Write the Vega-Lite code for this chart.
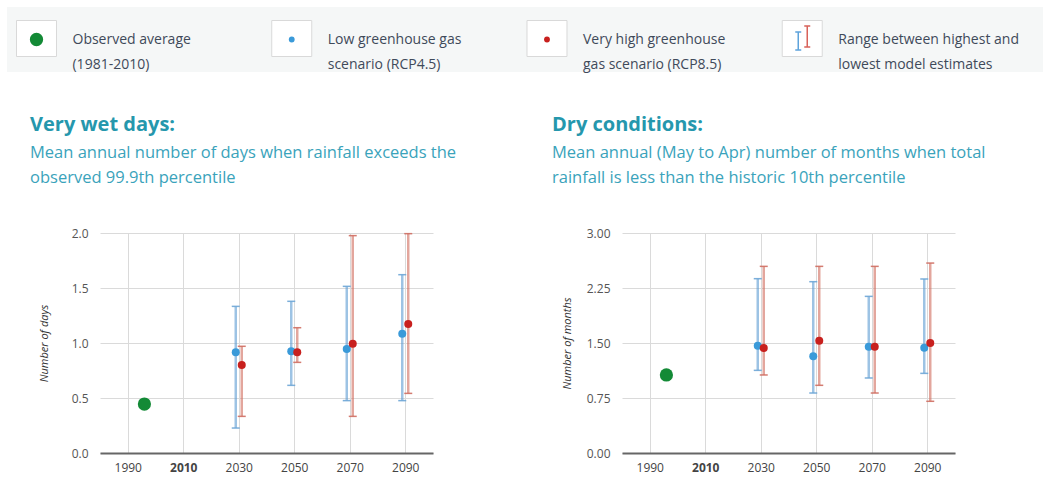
{
  "$schema": "https://vega.github.io/schema/vega-lite/v6.json",
  "background": "white",
  "padding": {"left": 7, "top": 7, "right": 0, "bottom": 6},
  "spacing": 42,
  "config": {
    "view": {"stroke": null},
    "font": "Open Sans",
    "axis": {"labelFont": "Open Sans", "titleFont": "Open Sans", "gridColor": "#dadada", "gridWidth": 1}
  },
  "datasets": {
    "legend": [
      {"item": "Observed", "i": 0, "label": "Observed average\n(1981-2010)"},
      {"item": "Low", "i": 1, "label": "Low greenhouse gas\nscenario (RCP4.5)"},
      {"item": "High", "i": 2, "label": "Very high greenhouse\ngas scenario (RCP8.5)"},
      {"item": "Range", "i": 3, "label": "Range between highest and\nlowest model estimates"}
    ],
    "wet": [
      {"scenario": "Observed", "year": 1996, "value": 0.445},
      {"scenario": "Low", "year": 2030, "value": 0.915, "lo": 0.227, "hi": 1.333},
      {"scenario": "High", "year": 2030, "value": 0.80, "lo": 0.333, "hi": 0.97},
      {"scenario": "Low", "year": 2050, "value": 0.924, "lo": 0.615, "hi": 1.379},
      {"scenario": "High", "year": 2050, "value": 0.915, "lo": 0.824, "hi": 1.139},
      {"scenario": "Low", "year": 2070, "value": 0.945, "lo": 0.476, "hi": 1.515},
      {"scenario": "High", "year": 2070, "value": 0.994, "lo": 0.333, "hi": 1.976},
      {"scenario": "Low", "year": 2090, "value": 1.085, "lo": 0.476, "hi": 1.621},
      {"scenario": "High", "year": 2090, "value": 1.173, "lo": 0.542, "hi": 1.994}
    ],
    "dry": [
      {"scenario": "Observed", "year": 1996, "value": 1.064},
      {"scenario": "Low", "year": 2030, "value": 1.464, "lo": 1.127, "hi": 2.377},
      {"scenario": "High", "year": 2030, "value": 1.432, "lo": 1.064, "hi": 2.545},
      {"scenario": "Low", "year": 2050, "value": 1.318, "lo": 0.818, "hi": 2.336},
      {"scenario": "High", "year": 2050, "value": 1.532, "lo": 0.923, "hi": 2.545},
      {"scenario": "Low", "year": 2070, "value": 1.45, "lo": 1.023, "hi": 2.136},
      {"scenario": "High", "year": 2070, "value": 1.45, "lo": 0.818, "hi": 2.545},
      {"scenario": "Low", "year": 2090, "value": 1.436, "lo": 1.086, "hi": 2.373},
      {"scenario": "High", "year": 2090, "value": 1.5, "lo": 0.705, "hi": 2.59}
    ]
  },
  "vconcat": [
    {
      "width": 943,
      "height": 65,
      "data": {"name": "legend"},
      "encoding": {
        "x": {"field": "i", "type": "quantitative", "scale": {"domain": [0.2488, 3.9432], "nice": false, "zero": false}, "axis": null}
      },
      "layer": [
        {
          "mark": {"type": "rect", "color": "#f5f7f7", "opacity": 1, "clip": false},
          "encoding": {"x": {"datum": -0.1155, "type": "quantitative"}, "x2": {"datum": 3.9432}}
        },
        {
          "mark": {"type": "point", "shape": "M-1,-0.95H1V0.85H-1Z", "size": 1600, "filled": true, "fill": "white", "stroke": "#d9d9d9", "strokeWidth": 1, "opacity": 1, "clip": false}
        },
        {
          "transform": [{"filter": "datum.item === 'Observed'"}],
          "mark": {"type": "circle", "size": 177, "opacity": 1, "clip": false},
          "encoding": {"fill": {"field": "item", "type": "nominal", "scale": {"domain": ["Low", "High", "Observed"], "range": ["#3a9ad9", "#c8201e", "#138a36"]}, "legend": null}}
        },
        {
          "transform": [{"filter": "datum.item === 'Low' || datum.item === 'High'"}],
          "mark": {"type": "circle", "size": 34, "opacity": 1},
          "encoding": {"fill": {"field": "item", "type": "nominal", "scale": {"domain": ["Low", "High", "Observed"], "range": ["#3a9ad9", "#c8201e", "#138a36"]}, "legend": null}}
        },
        {
          "transform": [{"filter": "datum.item === 'Range'"}],
          "mark": {"type": "point", "shape": "M-0.7,-0.75H-0.1M-0.4,-0.75V1.05M-0.7,1.05H-0.1", "size": 400, "filled": false, "stroke": "#5ea3db", "strokeWidth": 1.5, "opacity": 1}
        },
        {
          "transform": [{"filter": "datum.item === 'Range'"}],
          "mark": {"type": "point", "shape": "M0.2,-1.35H0.8M0.5,-1.35V0.75M0.2,0.75H0.8", "size": 400, "filled": false, "stroke": "#d8625a", "strokeWidth": 1.5, "opacity": 1}
        },
        {
          "mark": {"type": "text", "align": "left", "baseline": "middle", "dx": 36, "fontSize": 14, "lineHeight": 25, "lineBreak": "\n", "color": "#3f4a5a", "font": "Open Sans", "clip": false},
          "encoding": {"text": {"field": "label"}}
        }
      ]
    },
    {
      "spacing": 95,
      "hconcat": [
        {
          "width": 333,
          "height": 220,
          "data": {"name": "wet"},
          "title": {
            "text": "Very wet days:",
            "subtitle": ["Mean annual number of days when rainfall exceeds the", "observed 99.9th percentile"],
            "anchor": "start", "frame": "group", "dx": -70, "offset": 41,
            "font": "Open Sans", "fontSize": 20, "fontWeight": "bold", "color": "#2597ad",
            "subtitleFont": "Open Sans", "subtitleFontSize": 16.5, "subtitleColor": "#3aa3bb", "subtitleLineHeight": 25, "subtitlePadding": 10
          },
          "encoding": {
            "x": {
              "field": "year", "type": "quantitative",
              "scale": {"domain": [1980, 2100], "nice": false, "zero": false},
              "axis": {
                "values": [1990, 2010, 2030, 2050, 2070, 2090], "format": "d", "grid": true, "ticks": false,
                "domainColor": "#666666", "domainWidth": 2, "labelFontSize": 12, "labelColor": "#444444", "labelPadding": 9,
                "labelFontWeight": {"condition": {"test": "datum.value === 2010", "value": "bold"}, "value": "normal"},
                "title": null
              }
            }
          },
          "layer": [
            {
              "transform": [{"filter": "datum.scenario !== 'Observed'"}],
              "mark": {"type": "rule", "strokeWidth": 2.5, "opacity": 0.6, "xOffset": {"expr": "datum.scenario === 'Low' ? -3 : 3"}},
              "encoding": {
                "y": {
                  "field": "lo", "type": "quantitative",
                  "scale": {"domain": [0, 2], "nice": false},
                  "axis": {"values": [0, 0.5, 1, 1.5, 2], "format": ".1f", "domain": false, "ticks": false, "labelPadding": 12, "labelFontSize": 12, "labelColor": "#555555", "title": "Number of days", "titleFontStyle": "italic", "titleFontWeight": "normal", "titleFontSize": 11, "titleColor": "#333333", "titlePadding": 22}
                },
                "y2": {"field": "hi"},
                "stroke": {"field": "scenario", "type": "nominal", "scale": {"domain": ["Low", "High"], "range": ["#5b9bd2", "#d06a5c"]}, "legend": null}
              }
            },
            {
              "transform": [{"filter": "datum.scenario !== 'Observed'"}],
              "mark": {"type": "tick", "orient": "horizontal", "size": 8, "thickness": 1.5, "opacity": 0.9, "xOffset": {"expr": "datum.scenario === 'Low' ? -3 : 3"}},
              "encoding": {
                "y": {"field": "lo", "type": "quantitative"},
                "color": {"field": "scenario", "type": "nominal", "scale": {"domain": ["Low", "High"], "range": ["#6ea6d6", "#cf6e62"]}, "legend": null}
              }
            },
            {
              "transform": [{"filter": "datum.scenario !== 'Observed'"}],
              "mark": {"type": "tick", "orient": "horizontal", "size": 8, "thickness": 1.5, "opacity": 0.9, "xOffset": {"expr": "datum.scenario === 'Low' ? -3 : 3"}},
              "encoding": {
                "y": {"field": "hi", "type": "quantitative"},
                "color": {"field": "scenario", "type": "nominal", "scale": {"domain": ["Low", "High"], "range": ["#6ea6d6", "#cf6e62"]}, "legend": null}
              }
            },
            {
              "transform": [{"filter": "datum.scenario !== 'Observed'"}],
              "mark": {"type": "circle", "size": 64, "opacity": 1, "xOffset": {"expr": "datum.scenario === 'Low' ? -3 : 3"}},
              "encoding": {
                "y": {"field": "value", "type": "quantitative"},
                "fill": {"field": "scenario", "type": "nominal", "scale": {"domain": ["Low", "High", "Observed"], "range": ["#3a9ad9", "#c8201e", "#138a36"]}, "legend": null}
              }
            },
            {
              "transform": [{"filter": "datum.scenario === 'Observed'"}],
              "mark": {"type": "circle", "size": 175, "opacity": 1},
              "encoding": {
                "y": {"field": "value", "type": "quantitative"},
                "fill": {"field": "scenario", "type": "nominal", "scale": {"domain": ["Low", "High", "Observed"], "range": ["#3a9ad9", "#c8201e", "#138a36"]}, "legend": null}
              }
            }
          ]
        },
        {
          "width": 333,
          "height": 220,
          "data": {"name": "dry"},
          "title": {
            "text": "Dry conditions:",
            "subtitle": ["Mean annual (May to Apr) number of months when total", "rainfall is less than the historic 10th percentile"],
            "anchor": "start", "frame": "group", "dx": -70, "offset": 41,
            "font": "Open Sans", "fontSize": 20, "fontWeight": "bold", "color": "#2597ad",
            "subtitleFont": "Open Sans", "subtitleFontSize": 16.5, "subtitleColor": "#3aa3bb", "subtitleLineHeight": 25, "subtitlePadding": 10
          },
          "encoding": {
            "x": {
              "field": "year", "type": "quantitative",
              "scale": {"domain": [1980, 2100], "nice": false, "zero": false},
              "axis": {
                "values": [1990, 2010, 2030, 2050, 2070, 2090], "format": "d", "grid": true, "ticks": false,
                "domainColor": "#666666", "domainWidth": 2, "labelFontSize": 12, "labelColor": "#444444", "labelPadding": 9,
                "labelFontWeight": {"condition": {"test": "datum.value === 2010", "value": "bold"}, "value": "normal"},
                "title": null
              }
            }
          },
          "layer": [
            {
              "transform": [{"filter": "datum.scenario !== 'Observed'"}],
              "mark": {"type": "rule", "strokeWidth": 2.5, "opacity": 0.6, "xOffset": {"expr": "datum.scenario === 'Low' ? -3 : 3"}},
              "encoding": {
                "y": {
                  "field": "lo", "type": "quantitative",
                  "scale": {"domain": [0, 3], "nice": false},
                  "axis": {"values": [0, 0.75, 1.5, 2.25, 3], "format": ".2f", "domain": false, "ticks": false, "labelPadding": 12, "labelFontSize": 12, "labelColor": "#555555", "title": "Number of months", "titleFontStyle": "italic", "titleFontWeight": "normal", "titleFontSize": 11, "titleColor": "#333333", "titlePadding": 14}
                },
                "y2": {"field": "hi"},
                "stroke": {"field": "scenario", "type": "nominal", "scale": {"domain": ["Low", "High"], "range": ["#5b9bd2", "#d06a5c"]}, "legend": null}
              }
            },
            {
              "transform": [{"filter": "datum.scenario !== 'Observed'"}],
              "mark": {"type": "tick", "orient": "horizontal", "size": 8, "thickness": 1.5, "opacity": 0.9, "xOffset": {"expr": "datum.scenario === 'Low' ? -3 : 3"}},
              "encoding": {
                "y": {"field": "lo", "type": "quantitative"},
                "color": {"field": "scenario", "type": "nominal", "scale": {"domain": ["Low", "High"], "range": ["#6ea6d6", "#cf6e62"]}, "legend": null}
              }
            },
            {
              "transform": [{"filter": "datum.scenario !== 'Observed'"}],
              "mark": {"type": "tick", "orient": "horizontal", "size": 8, "thickness": 1.5, "opacity": 0.9, "xOffset": {"expr": "datum.scenario === 'Low' ? -3 : 3"}},
              "encoding": {
                "y": {"field": "hi", "type": "quantitative"},
                "color": {"field": "scenario", "type": "nominal", "scale": {"domain": ["Low", "High"], "range": ["#6ea6d6", "#cf6e62"]}, "legend": null}
              }
            },
            {
              "transform": [{"filter": "datum.scenario !== 'Observed'"}],
              "mark": {"type": "circle", "size": 64, "opacity": 1, "xOffset": {"expr": "datum.scenario === 'Low' ? -3 : 3"}},
              "encoding": {
                "y": {"field": "value", "type": "quantitative"},
                "fill": {"field": "scenario", "type": "nominal", "scale": {"domain": ["Low", "High", "Observed"], "range": ["#3a9ad9", "#c8201e", "#138a36"]}, "legend": null}
              }
            },
            {
              "transform": [{"filter": "datum.scenario === 'Observed'"}],
              "mark": {"type": "circle", "size": 175, "opacity": 1},
              "encoding": {
                "y": {"field": "value", "type": "quantitative"},
                "fill": {"field": "scenario", "type": "nominal", "scale": {"domain": ["Low", "High", "Observed"], "range": ["#3a9ad9", "#c8201e", "#138a36"]}, "legend": null}
              }
            }
          ]
        }
      ]
    }
  ]
}
